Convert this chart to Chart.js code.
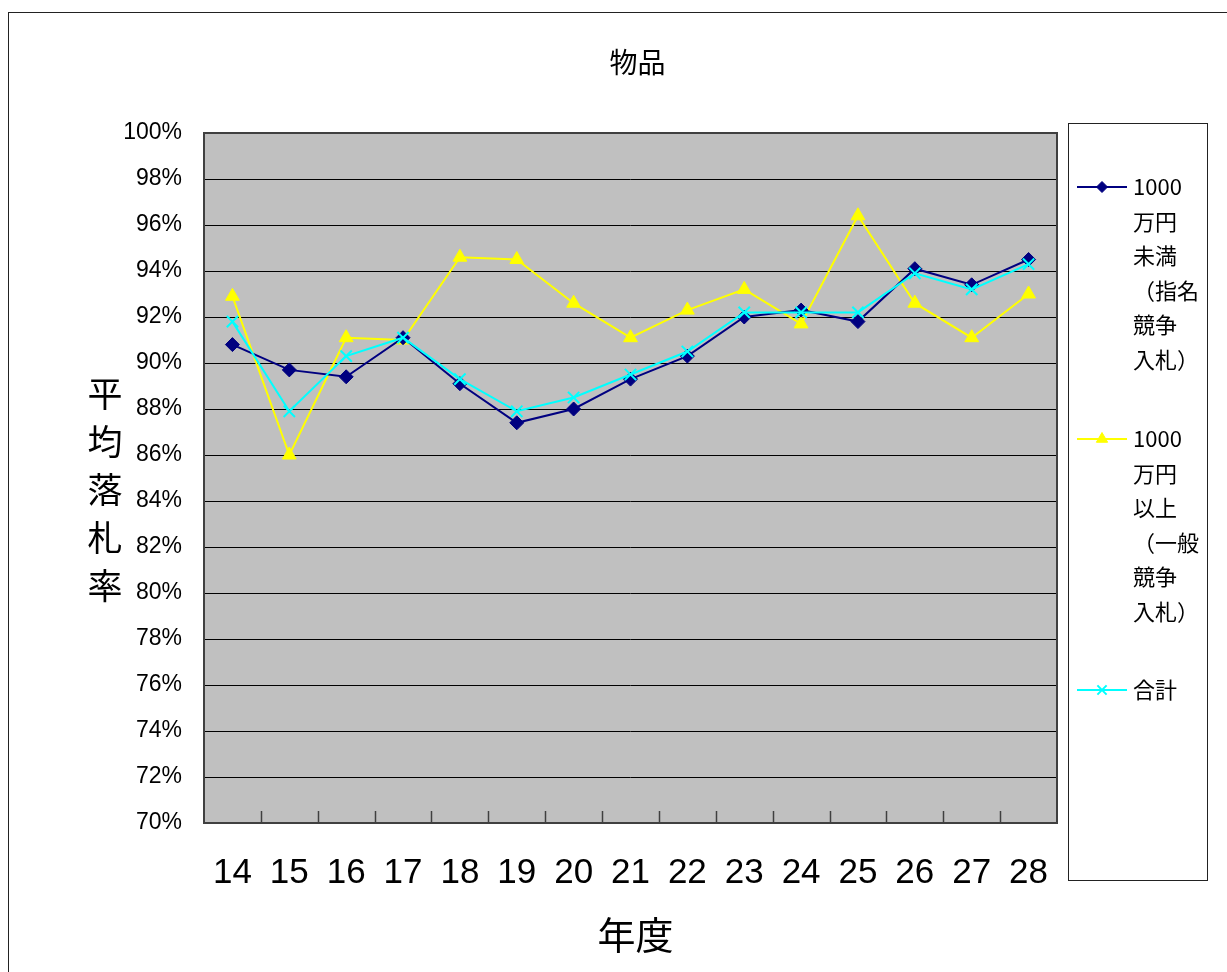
<!DOCTYPE html>
<html>
<head>
<meta charset="utf-8">
<script src="https://cdn.jsdelivr.net/npm/chart.js@4/dist/chart.umd.min.js"></script>
<style>
  html, body { margin: 0; padding: 0; background: #fff; }
</style>
</head>
<body>
<canvas id="chart" width="1227" height="972"></canvas>
<script>
// 年度 (平成)
const years = ['14', '15', '16', '17', '18', '19', '20', '21', '22', '23', '24', '25', '26', '27', '28'];

// 平均落札率 (%)
const under10m = [90.8, 89.7, 89.4, 91.1, 89.1, 87.4, 88.0, 89.3, 90.3, 92.0, 92.3, 91.8, 94.1, 93.4, 94.5];
const over10m = [92.9, 86.0, 91.1, 91.0, 94.6, 94.5, 92.6, 91.1, 92.3, 93.2, 91.7, 96.4, 92.6, 91.1, 93.0];
const total = [91.8, 87.9, 90.3, 91.1, 89.3, 87.9, 88.5, 89.5, 90.5, 92.2, 92.2, 92.2, 93.9, 93.2, 94.3];

const seriesNames = [
  ['1000', '万円', '未満', '（指名', '競争', '入札）'],
  ['1000', '万円', '以上', '（一般', '競争', '入札）'],
  ['合計'],
];

const chartTitle = '物品';
const yTitle = '平均落札率';
const xTitle = '年度';

const JP = '"Noto Sans CJK JP", "Noto Sans", sans-serif';
const NUM = '"Liberation Sans", sans-serif';

// background, outer frame and the grey plot area
const backdrop = {
  id: 'backdrop',
  beforeDraw(chart) {
    const { ctx, chartArea: a } = chart;
    ctx.save();
    ctx.fillStyle = '#fff';
    ctx.fillRect(0, 0, chart.width, chart.height);
    ctx.strokeStyle = '#222';
    ctx.lineWidth = 1;
    ctx.strokeRect(8.5, 12.5, chart.width + 50, chart.height + 50);
    ctx.fillStyle = '#c0c0c0';
    ctx.fillRect(a.left, a.top, a.right - a.left, a.bottom - a.top);
    ctx.restore();
  },
};

// plot border, inward x ticks, titles and the legend box
const decorations = {
  id: 'decorations',
  afterDraw(chart) {
    const { ctx, chartArea: a } = chart;
    const xs = chart.scales.x;
    ctx.save();

    ctx.strokeStyle = '#404040';
    ctx.lineWidth = 2;
    ctx.strokeRect(a.left, a.top, a.right - a.left, a.bottom - a.top);

    ctx.lineWidth = 1.5;
    ctx.beginPath();
    for (let i = 1; i < years.length; i++) {
      const x = Math.round((xs.getPixelForTick(i - 1) + xs.getPixelForTick(i)) / 2) + 0.5;
      ctx.moveTo(x, a.bottom);
      ctx.lineTo(x, a.bottom - 12);
    }
    ctx.stroke();

    const cx = (a.left + a.right) / 2;
    ctx.fillStyle = '#000';
    ctx.textAlign = 'center';
    ctx.textBaseline = 'middle';
    ctx.font = '28px ' + JP;
    ctx.fillText(chartTitle, cx + 7, 62);

    ctx.font = '38px ' + JP;
    ctx.fillText(xTitle, cx + 5, 935);

    ctx.font = '35px ' + JP;
    const chars = [...yTitle];
    const midY = (a.top + a.bottom) / 2 + 12;
    chars.forEach((ch, i) => {
      ctx.fillText(ch, 105, midY + (i - (chars.length - 1) / 2) * 48);
    });

    // legend
    const lx = a.right + 11, ly = a.top - 10, lw = 139, lh = 757;
    ctx.fillStyle = '#fff';
    ctx.fillRect(lx, ly, lw, lh);
    ctx.strokeStyle = '#222';
    ctx.lineWidth = 1;
    ctx.strokeRect(lx + 0.5, ly + 0.5, lw, lh);

    const firstY = [187, 439, 690];
    chart.data.datasets.forEach((ds, i) => {
      const y = firstY[i];
      ctx.strokeStyle = ds.borderColor;
      ctx.lineWidth = 2;
      ctx.beginPath();
      ctx.moveTo(lx + 9, y);
      ctx.lineTo(lx + 59, y);
      ctx.stroke();
      ctx.fillStyle = ds.pointBackgroundColor;
      ctx.strokeStyle = ds.pointBorderColor;
      ctx.lineWidth = ds.pointBorderWidth;
      Chart.helpers.drawPoint(ctx, {
        pointStyle: ds.pointStyle, radius: ds.pointRadius - 1.5, rotation: 0, borderWidth: ds.pointBorderWidth,
      }, lx + 34, y);
      ctx.fillStyle = '#000';
      ctx.textAlign = 'left';
      ctx.font = '22px ' + JP;
      seriesNames[i].forEach((line, k) => ctx.fillText(line, lx + 65, y + k * 34.5));
    });
    ctx.restore();
  },
};

new Chart(document.getElementById('chart'), {
  type: 'line',
  data: {
    labels: years,
    datasets: [
      {
        label: seriesNames[0].join(''),
        data: under10m,
        borderColor: '#000080',
        borderWidth: 2,
        pointStyle: 'rectRot',
        pointRadius: 7,
        pointBackgroundColor: '#000080',
        pointBorderColor: '#000080',
        pointBorderWidth: 1,
        order: 1,
      },
      {
        label: seriesNames[1].join(''),
        data: over10m,
        borderColor: '#ffff00',
        borderWidth: 2,
        pointStyle: 'triangle',
        pointRadius: 8,
        pointBackgroundColor: '#ffff00',
        pointBorderColor: '#ffff00',
        pointBorderWidth: 1,
        order: 2,
      },
      {
        label: seriesNames[2].join(''),
        data: total,
        borderColor: '#00ffff',
        borderWidth: 2,
        pointStyle: 'crossRot',
        pointRadius: 8,
        pointBackgroundColor: '#00ffff',
        pointBorderColor: '#00ffff',
        pointBorderWidth: 2,
        order: 0,
      },
    ],
  },
  options: {
    responsive: false,
    animation: false,
    layout: { padding: { left: 0, top: 133, right: 170, bottom: 0 } },
    plugins: {
      legend: { display: false },
      title: { display: false },
      tooltip: { enabled: false },
    },
    scales: {
      x: {
        offset: true,
        grid: { display: false, drawTicks: false },
        border: { display: false },
        ticks: { color: '#000', font: { family: NUM, size: 35 }, padding: 29, maxRotation: 0, autoSkip: false },
        afterFit: s => { s.height = 149; },
      },
      y: {
        min: 70,
        max: 100,
        grid: { color: '#000', lineWidth: 1, drawTicks: false },
        border: { display: false },
        ticks: {
          stepSize: 2,
          color: '#000',
          padding: 22,
          font: { family: NUM, size: 23 },
          callback: v => v + '%',
        },
        afterFit: s => { s.width = 204; },
      },
    },
  },
  plugins: [backdrop, decorations],
});
</script>
</body>
</html>
